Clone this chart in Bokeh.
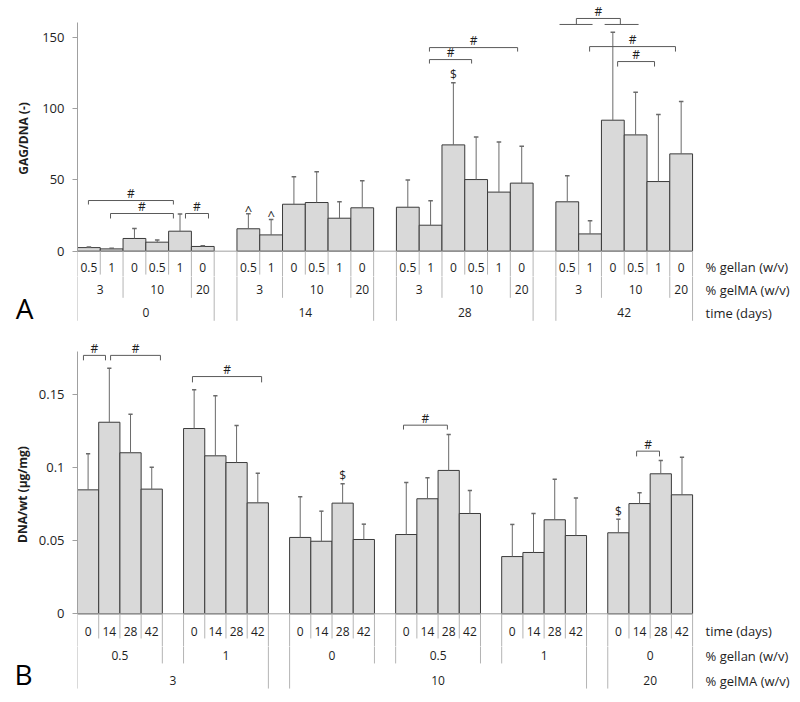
from bokeh.plotting import figure
from bokeh.models import Range1d, FixedTicker, NumeralTickFormatter, CustomJSTickFormatter
from bokeh.layouts import column
from bokeh.core.properties import value
from bokeh.embed import file_html
from bokeh.resources import INLINE

# ---------------- Panel A data: GAG/DNA ----------------
time_a = ["0", "14", "28", "42"]
gelma_a = ["3", "3", "10", "10", "10", "20"]
gellan_a = ["0.5", "1", "0", "0.5", "1", "0"]
gag_dna_t0 = [2.5, 1.6, 8.9, 6.3, 14.0, 3.3]
gag_dna_t14 = [15.7, 11.4, 32.9, 34.1, 23.1, 30.4]
gag_dna_t28 = [30.8, 18.2, 74.5, 50.2, 41.4, 47.7]
gag_dna_t42 = [34.6, 12.1, 91.8, 81.5, 48.8, 68.2]
gag_sd_t0 = [0.5, 0.4, 7.0, 1.6, 12.1, 0.5]
gag_sd_t14 = [10.5, 10.8, 19.2, 21.5, 11.5, 18.9]
gag_sd_t28 = [19.0, 17.1, 43.5, 29.8, 35.2, 25.9]
gag_sd_t42 = [18.2, 9.2, 61.7, 29.9, 47.0, 36.7]
yticks_a = [0, 50, 100, 150]

# ---------------- Panel B data: DNA/wt ----------------
gelma_b = ["3", "3", "10", "10", "10", "20"]
gellan_b = ["0.5", "1", "0", "0.5", "1", "0"]
time_b = ["0", "14", "28", "42"]
dna_wt_g1 = [0.0849, 0.1312, 0.1103, 0.0854]
dna_wt_g2 = [0.1269, 0.1082, 0.1036, 0.0760]
dna_wt_g3 = [0.0523, 0.0497, 0.0758, 0.0509]
dna_wt_g4 = [0.0543, 0.0788, 0.0982, 0.0687]
dna_wt_g5 = [0.0392, 0.0420, 0.0644, 0.0536]
dna_wt_g6 = [0.0555, 0.0755, 0.0959, 0.0815]
dna_sd_g1 = [0.0247, 0.0370, 0.0264, 0.0150]
dna_sd_g2 = [0.0265, 0.0411, 0.0254, 0.0203]
dna_sd_g3 = [0.0278, 0.0206, 0.0132, 0.0105]
dna_sd_g4 = [0.0356, 0.0144, 0.0246, 0.0158]
dna_sd_g5 = [0.0220, 0.0267, 0.0278, 0.0258]
dna_sd_g6 = [0.0093, 0.0074, 0.0091, 0.0258]
yticks_b = [0, 0.05, 0.1, 0.15]

# significance annotations (group index, bar index, symbol)
marks_a = [(2, 2, "$"), (1, 0, "^"), (1, 1, "^")]
marks_b = [(2, 2, "$"), (5, 0, "$")]
# brackets: (x start, x end, level, drop) in slot / data units
brackets_a = [(0.48, 4.21, 35.5, 2.8), (1.45, 4.21, 26.4, 3.5), (4.74, 5.75, 26.4, 3.5),
              (15.45, 17.3, 134.3, 2.8), (15.45, 19.32, 142.7, 2.8),
              (21.9, 23.83, 163.1, 4.2), (22.48, 26.25, 143.4, 3.5), (23.71, 25.33, 132.9, 3.5)]
plain_lines_a = [(21.16, 22.61, 158.9), (23.14, 24.63, 158.9)]
brackets_b = [(0.28, 1.32, 0.177, 0.0034), (1.56, 3.91, 0.177, 0.0034),
              (5.42, 8.68, 0.1625, 0.004), (15.37, 17.44, 0.1292, 0.003),
              (26.36, 27.44, 0.1114, 0.0036)]

FONT = value("Open Sans")
BAR_FILL = "#d9d9d9"
BAR_LINE = "#3a3a3a"
ERR = "#6a6a6a"
SEP = "#b4b4b4"
AXIS = "#a0a0a0"
BRK = "#5a5a5a"
TXT = "#1e1e1e"

FIG_W = 792
LEFT = 77


def main_fig(height, xr, yr, top, label_standoff):
    p = figure(width=FIG_W, height=height, x_range=xr, y_range=yr,
               output_backend="svg", toolbar_location=None,
               min_border_left=LEFT, min_border_right=0,
               min_border_top=top, min_border_bottom=0)
    p.xaxis.visible = False
    p.xgrid.visible = False
    p.ygrid.visible = False
    p.outline_line_color = None
    ax = p.yaxis[0]
    ax.axis_line_color = AXIS
    ax.major_tick_line_color = AXIS
    ax.major_tick_out = 5
    ax.major_tick_in = 0
    ax.minor_tick_out = 0
    ax.minor_tick_in = 0
    ax.major_label_text_font = "Open Sans"
    ax.major_label_text_font_size = "13px"
    ax.major_label_text_color = TXT
    ax.major_label_standoff = 8
    ax.axis_label_text_font = "Open Sans"
    ax.axis_label_text_font_style = "bold"
    ax.axis_label_text_font_size = "12px"
    ax.axis_label_text_color = TXT
    ax.axis_label_standoff = label_standoff
    return p


def strip_fig(height, xr, yr, letter, letter_y, standoff):
    """Lower strip of category rows; its left axis carries only the panel letter."""
    p = figure(width=FIG_W, height=height, x_range=xr, y_range=yr,
               output_backend="svg", toolbar_location=None,
               min_border_left=LEFT, min_border_right=0,
               min_border_top=0, min_border_bottom=0)
    p.xaxis.visible = False
    p.grid.visible = False
    p.outline_line_color = None
    ax = p.yaxis[0]
    ax.ticker = FixedTicker(ticks=[letter_y])
    ax.formatter = CustomJSTickFormatter(code="return '%s';" % letter)
    ax.axis_line_color = None
    ax.major_tick_line_color = None
    ax.major_tick_out = 0
    ax.major_tick_in = 0
    ax.minor_tick_out = 0
    ax.minor_tick_in = 0
    ax.major_label_standoff = standoff
    ax.major_label_text_font = "Open Sans"
    ax.major_label_text_font_size = "28px"
    ax.major_label_text_color = "black"
    return p


def draw_bars(p, xs, vals, sds, cap):
    p.vbar(x=xs, top=vals, bottom=0, width=1.0, fill_color=BAR_FILL,
           line_color=BAR_LINE, line_width=1)
    tops = [v + s for v, s in zip(vals, sds)]
    p.segment(x0=xs, y0=vals, x1=xs, y1=tops, line_color=ERR, line_width=1)
    p.segment(x0=[x - cap for x in xs], y0=tops, x1=[x + cap for x in xs], y1=tops,
              line_color=ERR, line_width=1.5)
    return tops


def draw_brackets(p, brackets, fs="12px"):
    xs, ys, hx, hy = [], [], [], []
    for x0, x1, lv, d in brackets:
        xs.append([x0, x0, x1, x1])
        ys.append([lv - d, lv, lv, lv - d])
        hx.append((x0 + x1) / 2)
        hy.append(lv)
    p.multi_line(xs=xs, ys=ys, line_color=BRK, line_width=1)
    p.text(x=hx, y=hy, text=["#"] * len(hx), text_align="center",
           text_baseline="middle", y_offset=-7, text_font=FONT,
           text_font_size=fs, text_color=TXT)


def txt(p, x, y, t, size="12px", align="center"):
    p.text(x=x, y=y, text=t, text_align=align, text_baseline="middle",
           text_font=FONT, text_font_size=size, text_color=TXT)


# ======================= Panel A =======================
SLOT_A = 22.78
PX_A = 1.4267            # px per data unit
Y0_A = 250.67            # page y of value 0
SPLIT_A = 276            # page y where the label strip starts
xr_a = Range1d(0, (FIG_W - LEFT) / SLOT_A)
pa = main_fig(SPLIT_A, xr_a, Range1d(-(SPLIT_A - Y0_A) / PX_A, Y0_A / PX_A), 0, 7)
ya = pa.yaxis[0]
ya.ticker = FixedTicker(ticks=yticks_a)
ya.bounds = (0, 160)
ya.axis_label = "GAG/DNA (-)"
pa2 = strip_fig(330 - SPLIT_A, xr_a,
                Range1d(-(330 - Y0_A) / PX_A, -(SPLIT_A - Y0_A) / PX_A),
                "A", -(307 - Y0_A) / PX_A, 44)

vals_a = [gag_dna_t0, gag_dna_t14, gag_dna_t28, gag_dna_t42]
sds_a = [gag_sd_t0, gag_sd_t14, gag_sd_t28, gag_sd_t42]
nA = len(gellan_a)
strideA = nA + 1
tops_a = {}
for g, (vals, sds) in enumerate(zip(vals_a, sds_a)):
    xs = [g * strideA + j + 0.5 for j in range(nA)]
    tops = draw_bars(pa, xs, vals, sds, 0.1)
    for j in range(nA):
        tops_a[(g, j)] = (xs[j], tops[j])

n_slots_a = len(time_a) * strideA - 1
pa.segment(x0=[0], y0=[0], x1=[n_slots_a], y1=[0], line_color=AXIS, line_width=1)

ROW_A = [-11.4, -26.9, -43.0]
DEPTH_A = [-16.4, -32.7, -48.8]
sx0, sy1 = [], []
for g, t in enumerate(time_a):
    base = g * strideA
    txt(pa, [base + j + 0.5 for j in range(nA)], [ROW_A[0]] * nA, gellan_a)
    for j in range(1, nA):
        boundary_gm = gelma_a[j] != gelma_a[j - 1]
        sx0.append(base + j)
        sy1.append(DEPTH_A[1] if boundary_gm else DEPTH_A[0])
    start = 0
    for j in range(1, nA + 1):
        if j == nA or gelma_a[j] != gelma_a[start]:
            txt(pa2, [base + (start + j) / 2], [ROW_A[1]], [gelma_a[start]])
            start = j
    txt(pa2, [base + nA / 2], [ROW_A[2]], [t])
    sx0 += [base, base + nA]
    sy1 += [DEPTH_A[2], DEPTH_A[2]]
for fig in (pa, pa2):
    fig.segment(x0=sx0, y0=[0] * len(sx0), x1=sx0, y1=sy1, line_color=SEP, line_width=1)

rx_a = n_slots_a + 13 / SLOT_A
txt(pa, [rx_a], [ROW_A[0]], ["% gellan (w/v)"], size="13px", align="left")
txt(pa2, [rx_a] * 2, ROW_A[1:], ["% gelMA (w/v)", "time (days)"], size="13px", align="left")

for g, j, s in marks_a:
    x, top = tops_a[(g, j)]
    pa.text(x=[x], y=[top], text=[s], text_align="center", text_baseline="middle",
            y_offset=-8 if s == "$" else -4, text_font=FONT,
            text_font_size="12px" if s == "$" else "13px", text_color=TXT)
draw_brackets(pa, brackets_a)
pa.multi_line(xs=[[a, b] for a, b, _ in plain_lines_a],
              ys=[[lv, lv] for _, _, lv in plain_lines_a], line_color=BRK, line_width=1)

# ======================= Panel B =======================
SLOT_B = 21.21
PX_B = 1460.0
Y0_B = 613.3
TOP_B = 330
SPLIT_B = 646
xr_b = Range1d(0, (FIG_W - LEFT) / SLOT_B)
pb = main_fig(SPLIT_B - TOP_B, xr_b,
              Range1d(-(SPLIT_B - Y0_B) / PX_B, (Y0_B - TOP_B - 12) / PX_B), 12, 5)
yb = pb.yaxis[0]
yb.ticker = FixedTicker(ticks=yticks_b)
yb.bounds = (0, 0.18)
yb.formatter = NumeralTickFormatter(format="0.[00]")
yb.axis_label = "DNA/wt (µg/mg)"
pb2 = strip_fig(694 - SPLIT_B, xr_b,
                Range1d(-(694 - Y0_B) / PX_B, -(SPLIT_B - Y0_B) / PX_B),
                "B", -(673 - Y0_B) / PX_B, 45)

vals_b = [dna_wt_g1, dna_wt_g2, dna_wt_g3, dna_wt_g4, dna_wt_g5, dna_wt_g6]
sds_b = [dna_sd_g1, dna_sd_g2, dna_sd_g3, dna_sd_g4, dna_sd_g5, dna_sd_g6]
nB = len(time_b)
strideB = nB + 1
tops_b = {}
for g, (vals, sds) in enumerate(zip(vals_b, sds_b)):
    xs = [g * strideB + j + 0.5 for j in range(nB)]
    tops = draw_bars(pb, xs, vals, sds, 0.1)
    for j in range(nB):
        tops_b[(g, j)] = (xs[j], tops[j])

n_slots_b = len(gellan_b) * strideB - 1
pb.segment(x0=[0], y0=[0], x1=[n_slots_b], y1=[0], line_color=AXIS, line_width=1)

ROW_B = [-0.0119, -0.0286, -0.0457]
DEPTH_B = [-0.0169, -0.034, -0.0512]
sx0, sy1 = [], []
nG = len(gellan_b)
for g in range(nG):
    base = g * strideB
    txt(pb, [base + j + 0.5 for j in range(nB)], [ROW_B[0]] * nB, time_b)
    for j in range(1, nB):
        sx0.append(base + j)
        sy1.append(DEPTH_B[0])
    txt(pb2, [base + nB / 2], [ROW_B[1]], [gellan_b[g]])
    first = g == 0 or gelma_b[g] != gelma_b[g - 1]
    last = g == nG - 1 or gelma_b[g] != gelma_b[g + 1]
    sx0 += [base, base + nB]
    sy1 += [DEPTH_B[2] if first else DEPTH_B[1], DEPTH_B[2] if last else DEPTH_B[1]]
start = 0
for g in range(1, nG + 1):
    if g == nG or gelma_b[g] != gelma_b[start]:
        x_mid = (start * strideB + (g - 1) * strideB + nB) / 2
        txt(pb2, [x_mid], [ROW_B[2]], [gelma_b[start]])
        start = g
for fig in (pb, pb2):
    fig.segment(x0=sx0, y0=[0] * len(sx0), x1=sx0, y1=sy1, line_color=SEP, line_width=1)

rx_b = n_slots_b + 13 / SLOT_B
txt(pb, [rx_b], [ROW_B[0]], ["time (days)"], size="13px", align="left")
txt(pb2, [rx_b] * 2, ROW_B[1:], ["% gellan  (w/v)", "% gelMA  (w/v)"], size="13px", align="left")

for g, j, s in marks_b:
    x, top = tops_b[(g, j)]
    pb.text(x=[x], y=[top], text=[s], text_align="center", text_baseline="middle",
            y_offset=-8, text_font=FONT, text_font_size="12px", text_color=TXT)
draw_brackets(pb, brackets_b)

layout = column(pa, pa2, pb, pb2, spacing=0)
open("out.html", "w").write(file_html(layout, INLINE))
